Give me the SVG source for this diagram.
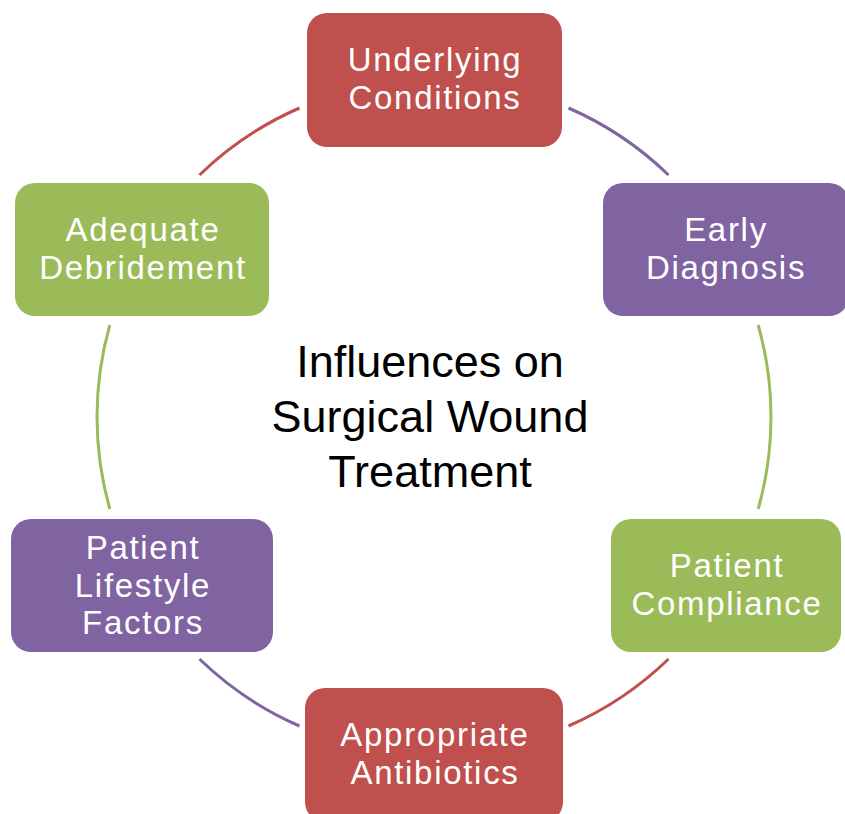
<svg xmlns="http://www.w3.org/2000/svg" width="845" height="814" viewBox="0 0 845 814">
<style>
.node-text{font-family:"Liberation Sans",Arial,sans-serif;font-size:33px;fill:#ffffff;text-anchor:middle;letter-spacing:1.7px}
.title{font-family:"Liberation Sans",Arial,sans-serif;font-size:45px;fill:#000000;text-anchor:middle}
.red{fill:#C0504D}
.purple{fill:#8064A2}
.green{fill:#9BBB59}
.arc{fill:none;stroke-width:3}
</style>
<rect width="845" height="814" fill="#ffffff"/>
<g id="connectors">
<path class="arc" stroke="#C0504D" d="M199.5,175 A337,337 0 0 1 299.5,108"/>
<path class="arc" stroke="#8064A2" d="M568.5,108 A337,337 0 0 1 668.5,175"/>
<path class="arc" stroke="#9BBB59" d="M758.2,325 A337,337 0 0 1 758.2,509"/>
<path class="arc" stroke="#C0504D" d="M668.5,659 A337,337 0 0 1 568.5,726"/>
<path class="arc" stroke="#8064A2" d="M299.5,726 A337,337 0 0 1 199.5,659"/>
<path class="arc" stroke="#9BBB59" d="M109.8,509 A337,337 0 0 1 109.8,325"/>
</g>
<g id="title">
<text class="title" x="430" y="377">Influences on</text>
<text class="title" x="430" y="432">Surgical Wound</text>
<text class="title" x="430" y="487">Treatment</text>
</g>
<g id="underlying-conditions">
<rect class="red" x="307" y="13" width="255" height="134" rx="20"/>
<text class="node-text" x="435" y="71">Underlying</text>
<text class="node-text" x="435" y="109">Conditions</text>
</g>
<g id="early-diagnosis">
<rect class="purple" x="603" y="183" width="246" height="133" rx="20"/>
<text class="node-text" x="726" y="241">Early</text>
<text class="node-text" x="726" y="279">Diagnosis</text>
</g>
<g id="patient-compliance">
<rect class="green" x="611" y="519" width="230" height="133" rx="20"/>
<text class="node-text" x="727" y="577">Patient</text>
<text class="node-text" x="727" y="615">Compliance</text>
</g>
<g id="appropriate-antibiotics">
<rect class="red" x="305" y="688" width="258" height="134" rx="20"/>
<text class="node-text" x="435" y="746">Appropriate</text>
<text class="node-text" x="435" y="784">Antibiotics</text>
</g>
<g id="patient-lifestyle-factors">
<rect class="purple" x="11" y="519" width="262" height="133" rx="20"/>
<text class="node-text" x="143" y="559">Patient</text>
<text class="node-text" x="143" y="597">Lifestyle</text>
<text class="node-text" x="143" y="634">Factors</text>
</g>
<g id="adequate-debridement">
<rect class="green" x="15" y="183" width="254" height="133" rx="20"/>
<text class="node-text" x="143" y="241">Adequate</text>
<text class="node-text" x="143" y="279">Debridement</text>
</g>
</svg>
